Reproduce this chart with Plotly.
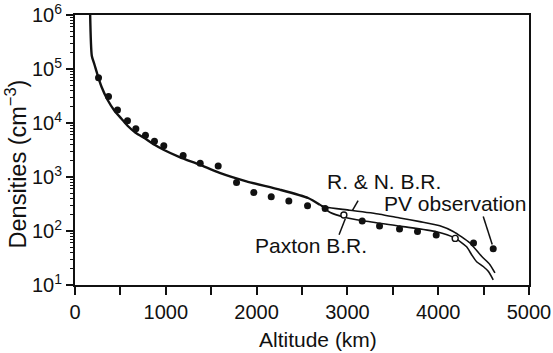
import plotly.graph_objects as go

# Shared model density profile (single curve below the branch point)
common_alt = [167, 185, 215, 248, 292, 358, 435, 512, 579, 667, 777, 876, 975,
              1152, 1373, 1593, 1888, 2255, 2567, 2696]
common_n = [1.0e6, 1.76e5, 1.2e5, 7.8e4, 4.7e4, 2.7e4, 1.69e4, 1.2e4, 8.9e3,
            6.6e3, 5.1e3, 3.96e3, 3.2e3, 2.34e3, 1.69e3, 1.19e3, 830, 582, 408, 307]

# R. & N. B.R. branch
rn_alt = [2696, 2770, 3026, 3357, 3577, 3798, 4018, 4165, 4349, 4478, 4570, 4625]
rn_n = [307, 275, 243, 205, 174, 149, 125, 98, 60, 34, 23.8, 16.7]

# Paxton B.R. branch
px_alt = [2696, 2806, 2971, 3173, 3577, 3982, 4184, 4313, 4368, 4423, 4496, 4551, 4606]
px_n = [307, 223, 180, 155, 123, 97, 74, 51, 36.4, 27, 22, 17.9, 12.5]

# PV observations
obs_alt = [259, 369, 468, 578, 670, 776, 875, 978, 1191, 1379, 1577, 1779, 1969,
           2161, 2355, 2561, 2755, 3163, 3354, 3574, 3772, 3978, 4389, 4606]
obs_n = [6.9e4, 3.1e4, 1.74e4, 1.1e4, 7.8e3, 5.9e3, 4.6e3, 3.8e3, 2.5e3, 1.8e3,
         1.6e3, 794, 519, 431, 359, 294, 262, 153, 124, 109, 98, 84, 60, 47]
open_alt = [2961, 4187]
open_n = [198, 73]

x_ticks = [0, 500, 1000, 1500, 2000, 2500, 3000, 3500, 4000, 4500, 5000]
x_labels = ["0", "", "1000", "", "2000", "", "3000", "", "4000", "", "5000"]
y_ticks = [1e1, 1e2, 1e3, 1e4, 1e5, 1e6]
y_labels = ["10<sup>1</sup>", "10<sup>2</sup>", "10<sup>3</sup>",
            "10<sup>4</sup>", "10<sup>5</sup>", "10<sup>6</sup>"]
y_minor = [m * 10 ** k for k in range(1, 6) for m in range(2, 10)]

FONT = "Liberation Sans, Arial, Helvetica, sans-serif"
BLACK = "#111111"

fig = go.Figure()

fig.add_trace(go.Scatter(x=common_alt, y=common_n, mode="lines",
                         line=dict(color=BLACK, width=2.4, shape="spline", smoothing=0.6),
                         hoverinfo="skip"))
fig.add_trace(go.Scatter(x=rn_alt, y=rn_n, mode="lines",
                         line=dict(color=BLACK, width=1.6, shape="spline", smoothing=0.6),
                         hoverinfo="skip"))
fig.add_trace(go.Scatter(x=px_alt, y=px_n, mode="lines",
                         line=dict(color=BLACK, width=1.6, shape="spline", smoothing=0.6),
                         hoverinfo="skip"))
fig.add_trace(go.Scatter(x=obs_alt, y=obs_n, mode="markers",
                         marker=dict(color=BLACK, size=7, line=dict(width=0))))
fig.add_trace(go.Scatter(x=open_alt, y=open_n, mode="markers",
                         marker=dict(color="white", size=6, line=dict(color=BLACK, width=1.4))))

# Leader lines from the labels to the curves
leaders = [
    ([3118, 3056], [364, 240]),
    ([2977, 2908], [169, 85]),
    ([4496, 4595], [186, 56]),
]
for lx, ly in leaders:
    fig.add_trace(go.Scatter(x=lx, y=ly, mode="lines",
                             line=dict(color=BLACK, width=1.5), hoverinfo="skip"))

label_font = dict(family=FONT, size=21, color=BLACK)
fig.add_annotation(x=3398, y=2.913, xref="x", yref="y", text="R. &amp; N. B.R.",
                   showarrow=False, font=label_font)
fig.add_annotation(x=4185, y=2.518, xref="x", yref="y", text="PV observation",
                   showarrow=False, font=label_font)
fig.add_annotation(x=2594, y=1.728, xref="x", yref="y", text="Paxton B.R.",
                   showarrow=False, font=label_font)
fig.add_annotation(x=-0.13, y=0.45, xref="paper", yref="paper",
                   xanchor="center", yanchor="middle",
                   text="Densities (cm<sup>−3</sup>)", textangle=-90,
                   showarrow=False, font=dict(family=FONT, size=23.5, color=BLACK))
fig.add_annotation(x=0.535, y=-0.2, xref="paper", yref="paper",
                   xanchor="center", yanchor="middle",
                   text="Altitude (km)", showarrow=False,
                   font=dict(family=FONT, size=21, color=BLACK))

fig.update_layout(
    width=553, height=353,
    margin=dict(l=75, r=24, t=15, b=68, autoexpand=False),
    paper_bgcolor="white", plot_bgcolor="white",
    showlegend=False,
    font=dict(family=FONT, size=20, color=BLACK),
    xaxis=dict(
        range=[0, 5000], tickvals=x_ticks, ticktext=x_labels,
        ticks="outside", ticklen=8, tickwidth=1.5, tickcolor=BLACK,
        showline=True, linewidth=2, linecolor=BLACK, mirror=True,
        showgrid=False, zeroline=False, automargin=False,
    ),
    yaxis=dict(
        type="log", range=[1, 6], tickvals=y_ticks, ticktext=y_labels,
        ticks="outside", ticklen=7, tickwidth=1.5, tickcolor=BLACK,
        showline=True, linewidth=2, linecolor=BLACK, mirror=True,
        showgrid=False, zeroline=False, automargin=False,
        minor=dict(tickvals=y_minor, ticks="outside", ticklen=3.5,
                   tickwidth=1, tickcolor=BLACK, showgrid=False),
    ),
)

fig.write_html("out.html")
